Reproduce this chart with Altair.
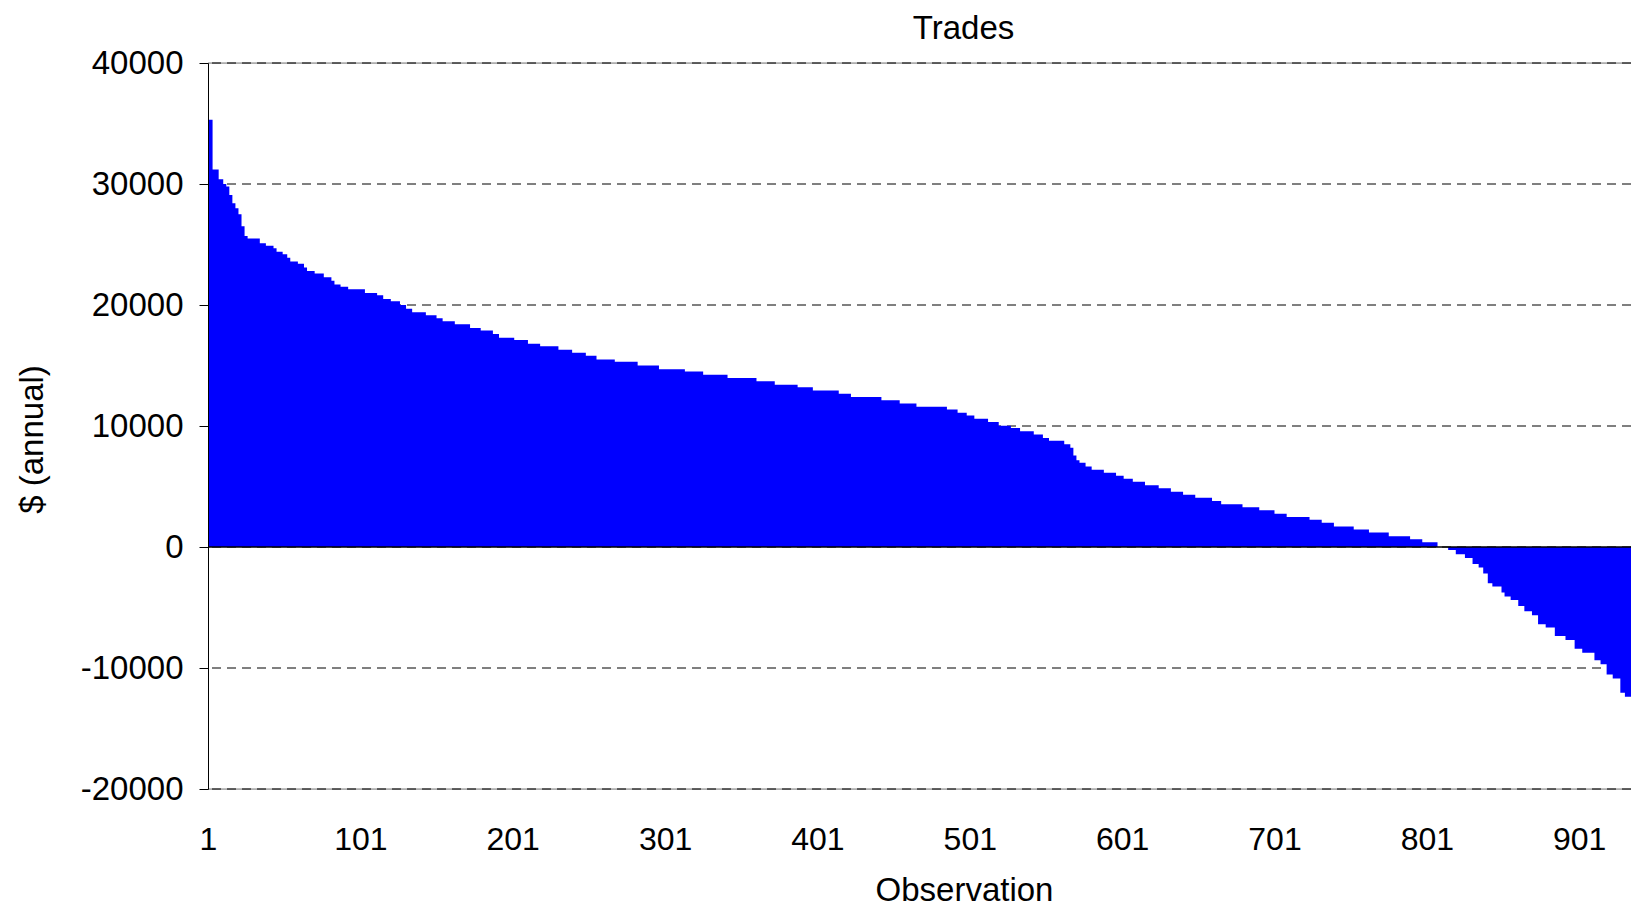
import altair as alt
import pandas as pd

# step levels of the sorted trade values ($ annual) and the last observation of each level
levels = [35300, 31200, 30400, 30000, 29800, 29100, 28400, 28000, 27500, 26500,
          25700, 25500, 25100, 24900, 24700, 24400, 24200, 23900, 23600, 23400,
          23100, 22800, 22600, 22300, 22000, 21700, 21500, 21300, 21000, 20800,
          20500, 20300, 20000, 19700, 19400, 19150, 18900, 18660, 18400, 18100,
          17900, 17600, 17300, 17100, 16800, 16600, 16300, 16060, 15800, 15500,
          15300, 15000, 14700, 14500, 14240, 13960, 13700, 13400, 13200, 12940,
          12660, 12400, 12130, 11860, 11600, 11360, 11100, 10860, 10600, 10340,
          10030, 9840, 9560, 9290, 9000, 8790, 8500, 8200, 7570, 7160,
          6970, 6660, 6380, 6140, 5890, 5640, 5390, 5100, 4850, 4570,
          4310, 4060, 3810, 3540, 3290, 3040, 2740, 2470, 2260, 2000,
          1700, 1450, 1200, 890, 640, 390, 0, -250, -600, -910,
          -1400, -1690, -2180, -2990, -3260, -3760, -4090, -4370, -4870, -5310,
          -5640, -6380, -6660, -7350, -7690, -8400, -8730, -9350, -9700, -10530,
          -10860, -12050, -12380, -12740, -13570]
ends = [3, 7, 10, 12, 14, 16, 18, 20, 22, 24,
        26, 34, 38, 43, 45, 49, 52, 54, 59, 63,
        65, 70, 76, 81, 83, 87, 92, 103, 111, 115,
        120, 126, 130, 134, 143, 150, 154, 162, 172, 179,
        187, 191, 201, 210, 218, 230, 239, 248, 255, 267,
        282, 296, 313, 325, 341, 360, 372, 387, 397, 414,
        422, 442, 454, 465, 485, 492, 498, 503, 512, 519,
        527, 533, 542, 548, 552, 562, 566, 568, 570, 572,
        576, 580, 588, 596, 601, 607, 615, 624, 632, 640,
        648, 659, 665, 679, 690, 700, 708, 723, 731, 739,
        752, 762, 775, 789, 797, 807, 814, 819, 825, 830,
        834, 837, 840, 843, 849, 851, 855, 860, 864, 869,
        873, 878, 884, 891, 897, 902, 910, 914, 918, 922,
        927, 930, 935, 938, 940]

y_ticks = [-20000, -10000, 0, 10000, 20000, 30000, 40000]
x_ticks = [1, 101, 201, 301, 401, 501, 601, 701, 801, 901]
x_domain = [1, 935]

obs, vals = [], []
start = 1
for lv, e in zip(levels, ends):
    for i in range(start, e + 1):
        obs.append(i)
        vals.append(lv)
    start = e + 1
obs.append(start)
vals.append(levels[-1])
df = pd.DataFrame({"obs": obs, "v": vals})

FONT = "Liberation Sans"

yscale = alt.Scale(domain=[y_ticks[0], y_ticks[-1]], nice=False, zero=False)
xscale = alt.Scale(domain=x_domain, nice=False, zero=False)

y_axis = alt.Axis(values=y_ticks, title="$ (annual)", grid=False,
                  domain=True, domainColor="#000000", domainWidth=1,
                  ticks=True, tickColor="#000000", tickSize=9, tickWidth=1,
                  labelPadding=16, labelFontSize=33, labelFont=FONT,
                  labelColor="#000000", labelOverlap=False,
                  labelExpr="'' + datum.value",
                  titleFont=FONT, titleFontSize=33, titleFontWeight="normal",
                  titleColor="#000000", titleAngle=270, titleX=-176, titleY=376,
                  titleBaseline="middle", titleAlign="center", zindex=1)

x_axis = alt.Axis(values=x_ticks, title="Observation", grid=False,
                  domain=False, ticks=False, tickSize=0,
                  labelPadding=35, labelFontSize=32, labelFont=FONT,
                  labelColor="#000000", labelFlush=False, labelOverlap=False,
                  labelExpr="'' + datum.value",
                  titleFont=FONT, titleFontSize=33, titleFontWeight="normal",
                  titleColor="#000000", titleX=756, titleY=111,
                  titleBaseline="alphabetic", titleAlign="center")

border = alt.Chart(pd.DataFrame({"v": [y_ticks[0], y_ticks[-1]]})).mark_rule(
    color="#808080", strokeWidth=1
).encode(y=alt.Y("v:Q", scale=yscale, axis=y_axis))

grid = alt.Chart(pd.DataFrame({"v": y_ticks})).mark_rule(
    color="#000000", strokeWidth=1, strokeDash=[9, 6]
).encode(y=alt.Y("v:Q", scale=yscale, axis=y_axis))

area = alt.Chart(df).mark_area(
    color="#0000FF", interpolate="step-after", clip=True, opacity=1
).encode(
    x=alt.X("obs:Q", scale=xscale, axis=x_axis),
    y=alt.Y("v:Q", scale=yscale, axis=y_axis),
)

zero = alt.Chart(pd.DataFrame({"v": [0]})).mark_rule(
    color="#000000", strokeWidth=1.5
).encode(y=alt.Y("v:Q", scale=yscale, axis=y_axis))

chart = alt.layer(border, grid, area, zero).properties(
    width=1423,
    height=726,
    padding={"left": 200, "top": 55, "right": 0, "bottom": 118},
    autosize=alt.AutoSizeParams(type="none"),
    title=alt.TitleParams(text="Trades", anchor="middle", fontSize=33,
                          fontWeight="normal", font=FONT, color="#000000",
                          dx=44, offset=1),
).configure_view(stroke=None).configure(background="#ffffff")

chart.save("out.html", embed_options={"renderer": "svg", "actions": False})
